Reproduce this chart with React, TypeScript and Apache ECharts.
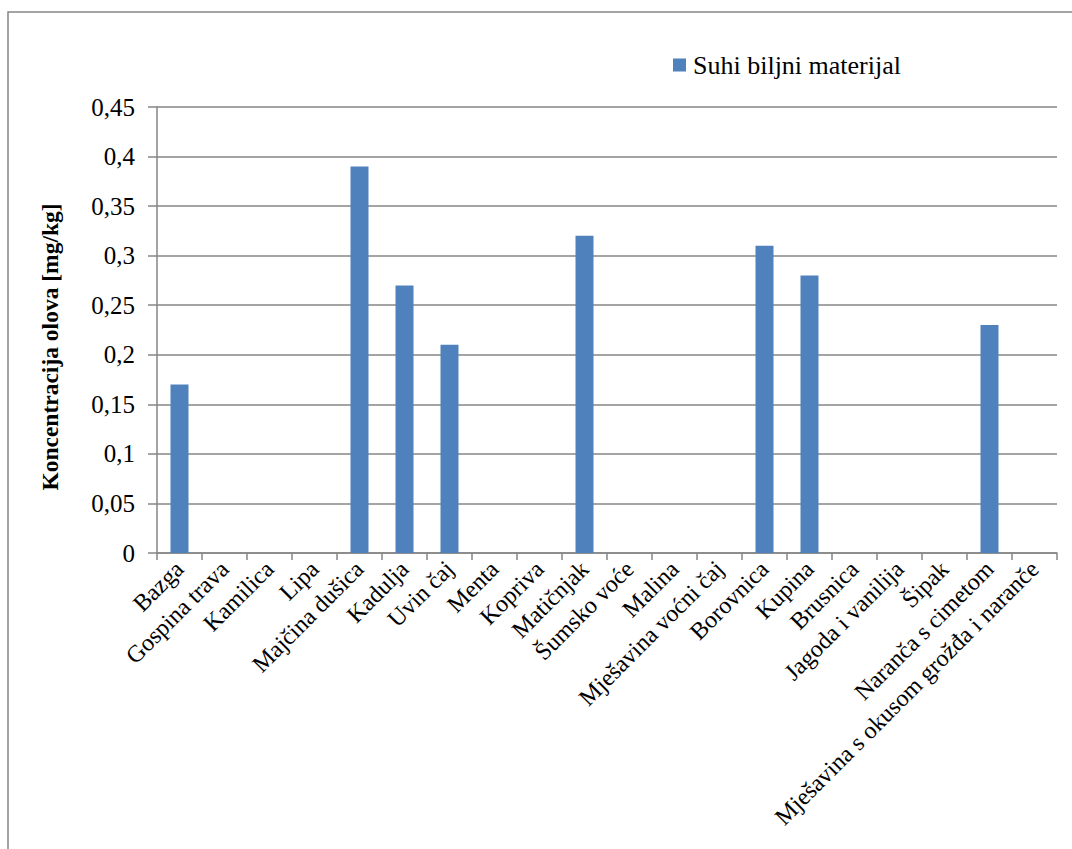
import React, { useEffect, useRef } from "react";
import * as echarts from "echarts";

const categories: string[] = [
  "Bazga",
  "Gospina trava",
  "Kamilica",
  "Lipa",
  "Majčina dušica",
  "Kadulja",
  "Uvin čaj",
  "Menta",
  "Kopriva",
  "Matičnjak",
  "Šumsko voće",
  "Malina",
  "Mješavina voćni čaj",
  "Borovnica",
  "Kupina",
  "Brusnica",
  "Jagoda i vanilija",
  "Šipak",
  "Naranča s cimetom",
  "Mješavina s okusom grožđa i naranče",
];

const seriesName = "Suhi biljni materijal";
const values: number[] = [
  0.17, 0, 0, 0, 0.39, 0.27, 0.21, 0, 0, 0.32, 0, 0, 0, 0.31, 0.28, 0, 0, 0, 0.23, 0,
];

const yAxisTitle = "Koncentracija olova [mg/kg]";
const yMin = 0;
const yMax = 0.45;
const yStep = 0.05;

const FONT = "Liberation Serif";
const GRAY = "#868686";
const BAR = "#4F81BD";

export default function App() {
  const ref = useRef<HTMLDivElement>(null);

  useEffect(() => {
    if (!ref.current) return;
    const chart = echarts.init(ref.current, null, { renderer: "svg" });
    chart.setOption({
      animation: false,
      backgroundColor: "#ffffff",
      textStyle: { fontFamily: FONT, color: "#000" },
      legend: {
        data: [seriesName],
        left: 673,
        top: 52,
        padding: 0,
        itemWidth: 13,
        itemHeight: 13,
        icon: "rect",
        textStyle: { fontFamily: FONT, fontSize: 26, color: "#000", padding: [0, 0, 0, 2] },
      },
      grid: { left: 157, right: 15, top: 107, bottom: 296, containLabel: false },
      xAxis: {
        type: "category",
        data: categories,
        boundaryGap: true,
        axisLine: { show: true, lineStyle: { color: GRAY, width: 1.5 } },
        axisTick: { show: true, length: 7, inside: false, alignWithLabel: false, lineStyle: { color: GRAY, width: 1.5 } },
        axisLabel: {
          interval: 0,
          rotate: 45,
          margin: 12,
          fontFamily: FONT,
          fontSize: 24,
          color: "#000",
        },
        splitLine: { show: false },
      },
      yAxis: {
        type: "value",
        min: yMin,
        max: yMax,
        interval: yStep,
        axisLine: { show: true, lineStyle: { color: GRAY, width: 1.5 } },
        axisTick: { show: true, length: 9, inside: false, lineStyle: { color: GRAY, width: 1.5 } },
        axisLabel: {
          margin: 22,
          fontFamily: FONT,
          fontSize: 25,
          color: "#000",
          formatter: (v: number) => String(+v.toFixed(2)).replace(".", ","),
        },
        splitLine: { show: true, lineStyle: { color: GRAY, width: 1.5 } },
      },
      series: [
        {
          name: seriesName,
          type: "bar",
          data: values,
          barWidth: 18,
          itemStyle: { color: BAR },
        },
      ],
      graphic: [
        {
          type: "rect",
          shape: { x: 8, y: 12, width: 1200, height: 1000 },
          style: { fill: "none", stroke: GRAY, lineWidth: 1.5 },
          silent: true,
          z: -1,
        },
        {
          type: "text",
          x: 50,
          y: 347,
          rotation: Math.PI / 2,
          style: {
            text: yAxisTitle,
            fontFamily: FONT,
            fontSize: 23.5,
            fontWeight: "bold",
            fill: "#000",
            align: "center",
            verticalAlign: "middle",
          },
        },
      ],
    });
    return () => chart.dispose();
  }, []);

  return (
    <div
      ref={ref}
      style={{ position: "fixed", left: 0, top: 0, width: 1072, height: 849 }}
    />
  );
}
